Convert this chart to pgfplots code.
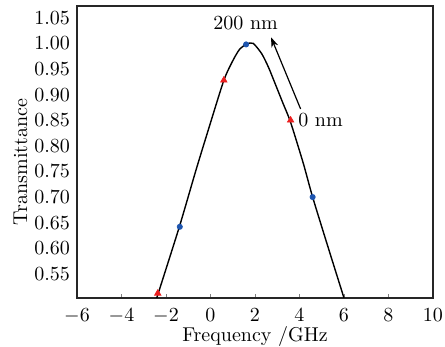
\documentclass[border=0pt]{standalone}
\usepackage{pgfplots}
\pgfplotsset{compat=1.18}
\usetikzlibrary{arrows.meta}
\definecolor{myblue}{RGB}{30,85,175}
\definecolor{myred}{RGB}{235,30,30}
\begin{document}
\begin{tikzpicture}
\begin{axis}[
  name=ax,
  scale only axis,
  width=178pt, height=146pt,
  xmin=-6, xmax=10, ymin=0.503, ymax=1.073,
  xtick={-6,-4,...,10},
  ytick={0.55,0.60,...,1.06},
  yticklabel style={/pgf/number format/fixed,/pgf/number format/fixed zerofill,/pgf/number format/precision=2},
  xticklabel style={anchor=north, inner sep=0pt, yshift=-5.3pt},
  xtick pos=bottom,
  tick align=inside,
  major tick length=2.2pt,
  ytick style={draw=none},
  axis line style={line width=0.6pt, black!85},
  xlabel={Frequency /GHz},
  ylabel={Transmittance},
  xlabel style={at={(axis description cs:0.5,-0.1507)}, anchor=base, inner sep=0pt},
  ylabel style={at={(axis description cs:-0.1404,0.466)}, anchor=base, inner sep=0pt},
  clip=true,
]
\addplot[black, line width=0.7pt, smooth, tension=0.4] coordinates {
(-2.50,0.492) (-2.35,0.512) (-1.40,0.642) (-0.65,0.753) (-0.10,0.831)
(0.60,0.928) (1.00,0.966) (1.30,0.988) (1.63,0.999) (1.92,1.000) (2.30,0.980)
(2.60,0.954) (2.90,0.922) (3.25,0.884) (3.60,0.846) (4.17,0.766) (4.59,0.700)
(5.30,0.600) (6.00,0.503) (6.05,0.496)
};
\addplot[only marks, mark=*, mark size=1.3pt, color=myblue] coordinates {
(1.6,0.998) (4.59,0.700) (-1.38,0.642)
};
\addplot[only marks, mark=triangle*, mark size=1.8pt, color=myred] coordinates {
(0.6,0.928) (3.6,0.850) (-2.37,0.512)
};
\draw[-{Stealth[length=5pt,width=3.5pt]}, line width=0.6pt] (axis cs:4.05,0.872) -- (axis cs:2.72,1.012);
\node[inner sep=0pt] at (axis cs:1.58,1.039) {200 nm};
\node[inner sep=0pt, anchor=west] at (axis cs:3.93,0.85) {0 nm};
\end{axis}
\pgfresetboundingbox
\useasboundingbox ([xshift=-38.5pt,yshift=-24.5pt]ax.south west) rectangle ([xshift=6pt,yshift=3pt]ax.north east);
\end{tikzpicture}
\end{document}
